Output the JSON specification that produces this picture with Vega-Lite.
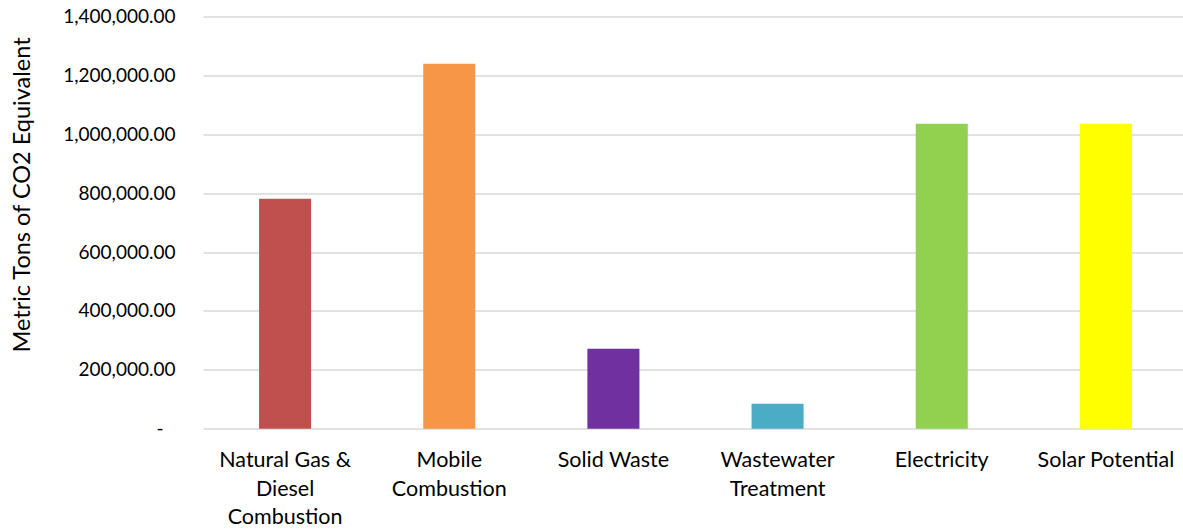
{
  "$schema": "https://vega.github.io/schema/vega-lite/v6.json",
  "autosize": {"type": "none"},
  "padding": {"left": 203, "top": 16.5, "right": 0, "bottom": 102.3},
  "width": 985,
  "height": 412.2,
  "background": "white",
  "config": {
    "view": {"stroke": null},
    "font": "Lato",
    "axis": {"labelFont": "Lato", "titleFont": "Lato", "labelColor": "#000000", "titleColor": "#000000"}
  },
  "data": {
    "values": [
      {"source": "Natural Gas & Diesel Combustion", "tons": 781000},
      {"source": "Mobile Combustion", "tons": 1239500},
      {"source": "Solid Waste", "tons": 271600},
      {"source": "Wastewater Treatment", "tons": 85000},
      {"source": "Electricity", "tons": 1035700},
      {"source": "Solar Potential", "tons": 1035700}
    ]
  },
  "mark": {"type": "bar"},
  "encoding": {
    "x": {
      "field": "source",
      "type": "nominal",
      "sort": null,
      "scale": {"paddingInner": 0.683, "paddingOuter": 0.3415},
      "axis": {
        "title": null,
        "labelAngle": 0,
        "ticks": false,
        "domain": false,
        "labelFontSize": 21.5,
        "labelPadding": 21,
        "labelBaseline": "top",
        "labelLineHeight": 28.5,
        "labelLimit": 300,
        "labelExpr": "datum.value == 'Natural Gas & Diesel Combustion' ? ['Natural Gas &', 'Diesel', 'Combustion'] : datum.value == 'Mobile Combustion' ? ['Mobile', 'Combustion'] : datum.value == 'Wastewater Treatment' ? ['Wastewater', 'Treatment'] : datum.value"
      }
    },
    "y": {
      "field": "tons",
      "type": "quantitative",
      "scale": {"domain": [0, 1400000], "nice": false},
      "axis": {
        "title": "Metric Tons of CO2 Equivalent",
        "titleFontSize": 23.5,
        "titleFontWeight": "normal",
        "titleX": -181,
        "titleY": 178,
        "titleAlign": "center",
        "titleBaseline": "middle",
        "values": [0, 200000, 400000, 600000, 800000, 1000000, 1200000, 1400000],
        "labelExpr": "datum.value == 0 ? '-' : format(datum.value, ',.2f')",
        "labelFontSize": 19,
        "labelPadding": {"condition": {"test": "datum.value == 0", "value": 40}, "value": 28},
        "ticks": false,
        "domain": false,
        "grid": true,
        "gridColor": "#D9D9D9",
        "gridWidth": 1.3
      }
    },
    "color": {
      "field": "source",
      "type": "nominal",
      "sort": null,
      "legend": null,
      "scale": {
        "domain": ["Natural Gas & Diesel Combustion", "Mobile Combustion", "Solid Waste", "Wastewater Treatment", "Electricity", "Solar Potential"],
        "range": ["#C0504D", "#F79646", "#7030A0", "#4BACC6", "#92D050", "#FFFF00"]
      }
    }
  }
}
